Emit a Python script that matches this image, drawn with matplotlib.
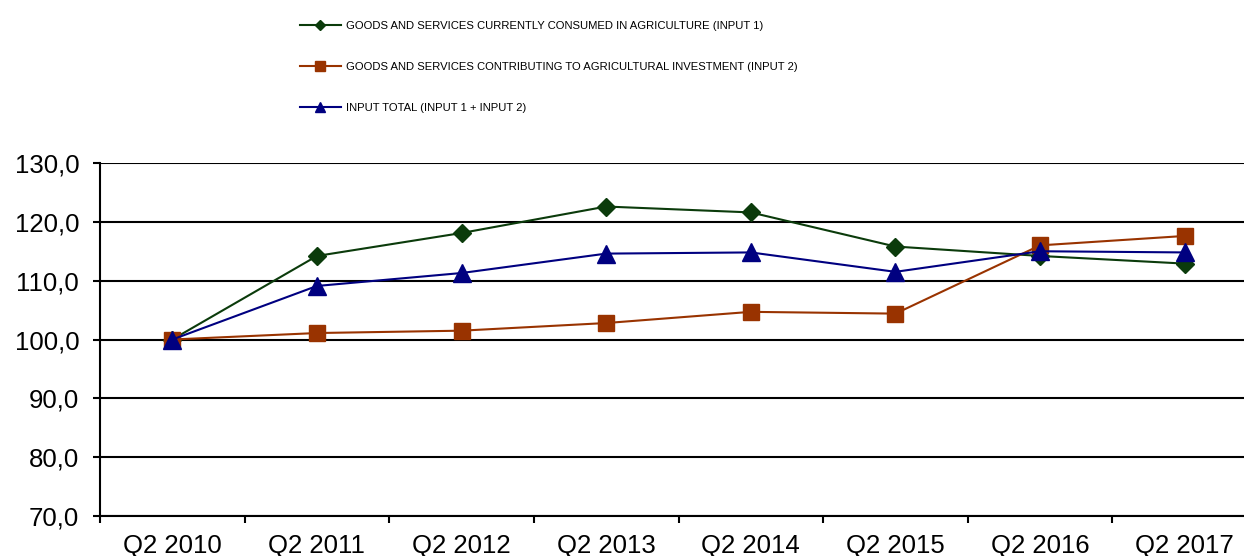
import matplotlib
matplotlib.use("Agg")
import matplotlib.pyplot as plt
from matplotlib.ticker import FixedLocator, FuncFormatter

categories = ["Q2 2010", "Q2 2011", "Q2 2012", "Q2 2013", "Q2 2014", "Q2 2015", "Q2 2016", "Q2 2017"]
input1 = [100.0, 114.2, 118.1, 122.6, 121.6, 115.8, 114.2, 112.9]
input2 = [100.0, 101.1, 101.5, 102.8, 104.7, 104.4, 116.0, 117.6]
total = [100.0, 109.1, 111.3, 114.6, 114.8, 111.5, 115.0, 114.8]
labels = [
    "GOODS AND SERVICES CURRENTLY CONSUMED IN AGRICULTURE (INPUT 1)",
    "GOODS AND SERVICES CONTRIBUTING TO AGRICULTURAL INVESTMENT (INPUT 2)",
    "INPUT TOTAL (INPUT 1 + INPUT 2)",
]
yticks = [70, 80, 90, 100, 110, 120, 130]

plt.rcParams['font.family'] = ['Liberation Sans', 'DejaVu Sans']

fig = plt.figure(figsize=(12.44, 5.56), dpi=100)
ax = fig.add_axes([100/1244, 1 - 516/556, 1157/1244, (516 - 163)/556])

x = list(range(len(categories)))
green = '#0B3B0B'
orange = '#993300'
blue = '#000080'

l1, = ax.plot(x, input1, color=green, lw=1.5, marker='D', ms=9, mec=green, mfc=green, zorder=3)
l2, = ax.plot(x, input2, color=orange, lw=1.5, marker='s', ms=11.5, mec=orange, mfc=orange, zorder=3)
l3, = ax.plot(x, total, color=blue, lw=1.5, marker='^', ms=12.5, mec=blue, mfc=blue, zorder=4)

ax.set_xlim(-0.5, len(categories) - 0.5)
ax.set_ylim(70, 130)
ax.yaxis.set_major_locator(FixedLocator(yticks))
ax.yaxis.set_major_formatter(FuncFormatter(lambda v, p: f"{v:.1f}".replace('.', ',')))
ax.grid(axis='y', color='black', lw=1.5)
ax.set_axisbelow(True)

ax.xaxis.set_major_locator(FixedLocator([i - 0.5 for i in range(len(categories) + 1)]))
ax.xaxis.set_major_formatter(FuncFormatter(lambda v, p: ""))
ax.xaxis.set_minor_locator(FixedLocator(x))
ax.set_xticklabels(categories, minor=True)
ax.tick_params(axis='x', which='major', direction='out', length=5, width=1.5, color='black')
ax.tick_params(axis='x', which='minor', length=0, labelsize=18.5, pad=13)
ax.tick_params(axis='y', direction='out', length=5, width=1.5, labelsize=18.5, pad=10)

for s in ['top', 'right']:
    ax.spines[s].set_visible(False)
for s in ['left', 'bottom']:
    ax.spines[s].set_linewidth(1.5)
    ax.spines[s].set_color('black')

leg = fig.legend([l1, l2, l3], labels, loc='upper left', bbox_to_anchor=(300/1244, 1 - 21/556),
                 frameon=False, fontsize=8.1, handlelength=3.6, handletextpad=0.45,
                 labelspacing=2.75, markerscale=0.6, borderaxespad=0, borderpad=0)

fig.savefig("out.png", dpi=100)
